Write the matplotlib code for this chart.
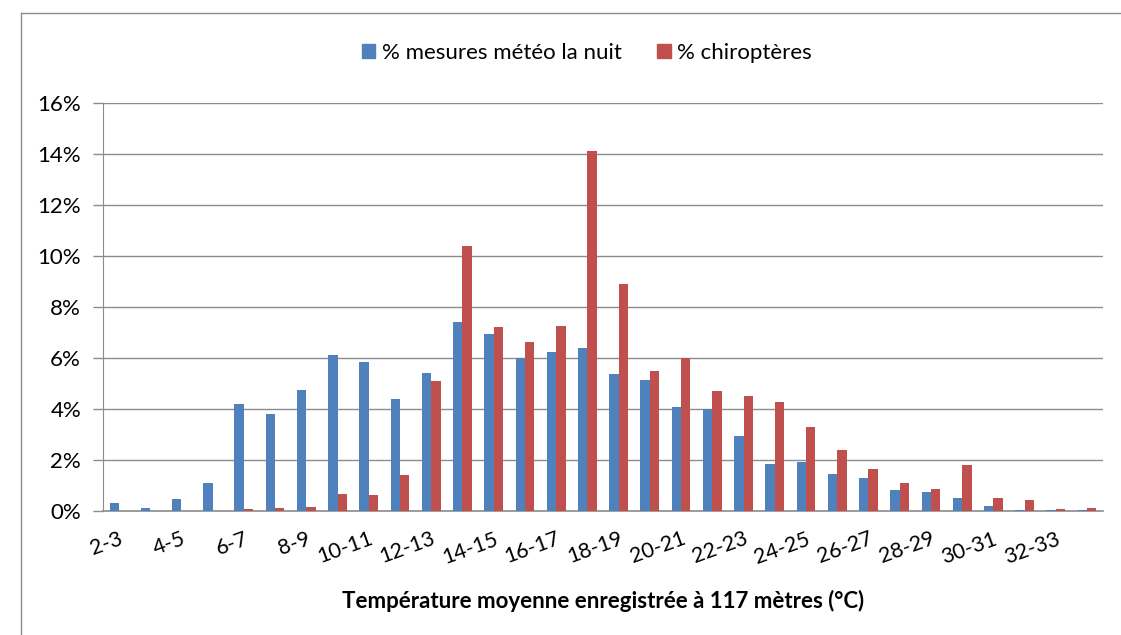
import matplotlib
matplotlib.use('Agg')
import matplotlib.pyplot as plt
from matplotlib.lines import Line2D
from matplotlib.patches import Patch
import numpy as np

categories = ["2-3", "3-4", "4-5", "5-6", "6-7", "7-8", "8-9", "9-10", "10-11", "11-12",
              "12-13", "13-14", "14-15", "15-16", "16-17", "17-18", "18-19", "19-20",
              "20-21", "21-22", "22-23", "23-24", "24-25", "25-26", "26-27", "27-28",
              "28-29", "29-30", "30-31", "31-32", "32-33", "33-34"]

meteo = [0.30, 0.10, 0.47, 1.10, 4.20, 3.80, 4.75, 6.10, 5.85, 4.40,
         5.40, 7.40, 6.95, 6.00, 6.22, 6.40, 5.38, 5.13, 4.08, 4.00,
         2.95, 1.85, 1.92, 1.45, 1.30, 0.82, 0.72, 0.50, 0.20, 0.03,
         0.03, 0.03]

chiro = [0.00, 0.00, 0.00, 0.00, 0.05, 0.10, 0.15, 0.65, 0.62, 1.42,
         5.08, 10.38, 7.20, 6.63, 7.25, 14.13, 8.90, 5.50, 6.00, 4.72,
         4.52, 4.27, 3.27, 2.38, 1.65, 1.07, 0.87, 1.80, 0.48, 0.42,
         0.08, 0.10]

yticks = [0, 2, 4, 6, 8, 10, 12, 14, 16]

series_names = ["% mesures météo la nuit", "% chiroptères"]
xlabel = "Température moyenne enregistrée à 117 mètres (°C)"

BLUE = "#4F81BD"
RED = "#C0504D"
GRID = "#8C8C8C"

plt.rcParams['font.family'] = ['Lato', 'DejaVu Sans']

W, H = 1121, 635
fig = plt.figure(figsize=(W / 100, H / 100), dpi=100)
fig.patch.set_facecolor('white')

left, right = 103.3 / W, 1102.7 / W
bottom, top = 1 - 510.7 / H, 1 - 103.3 / H
ax = fig.add_axes([left, bottom, right - left, top - bottom])

x = np.arange(len(categories))
bw = 0.3
ax.bar(x - bw / 2, meteo, width=bw, color=BLUE, zorder=3)
ax.bar(x + bw / 2, chiro, width=bw, color=RED, zorder=3)

ax.set_xlim(-0.5, len(categories) - 0.5)
ax.set_ylim(0, 16)
ax.set_yticks(yticks)
ax.set_yticklabels([f"{v}%" for v in yticks], fontsize=16)
ax.set_xticks(x[::2])
ax.set_xticklabels(categories[::2], rotation=20, ha='right', va='top',
                   rotation_mode='anchor', fontsize=15.5)
ax.tick_params(axis='x', length=0, pad=13)
ax.tick_params(axis='y', length=7, width=1, color=GRID, pad=9)

ax.grid(axis='y', color=GRID, linewidth=1, zorder=0)
for s in ['top', 'right']:
    ax.spines[s].set_visible(False)
ax.spines['left'].set_color(GRID)
ax.spines['bottom'].set_color(GRID)
ax.spines['bottom'].set_linewidth(1.2)

ax.set_xlabel(xlabel, fontsize=16, fontweight='bold', labelpad=16)

handles = [Patch(color=BLUE), Patch(color=RED)]
fig.legend(handles, series_names, loc='center', bbox_to_anchor=(587 / W, 1 - 53 / H),
           ncol=2, frameon=False, fontsize=16, handlelength=0.6, handleheight=0.6,
           handletextpad=0.3, columnspacing=1.6)

# chart area border (left and top edges visible)
fig.add_artist(Line2D([21 / W, 21 / W], [0, 1 - 13 / H], transform=fig.transFigure,
                      color='#8C8C8C', linewidth=1))
fig.add_artist(Line2D([21 / W, 1], [1 - 13 / H, 1 - 13 / H], transform=fig.transFigure,
                      color='#8C8C8C', linewidth=1))

fig.savefig('out.png', dpi=100)
